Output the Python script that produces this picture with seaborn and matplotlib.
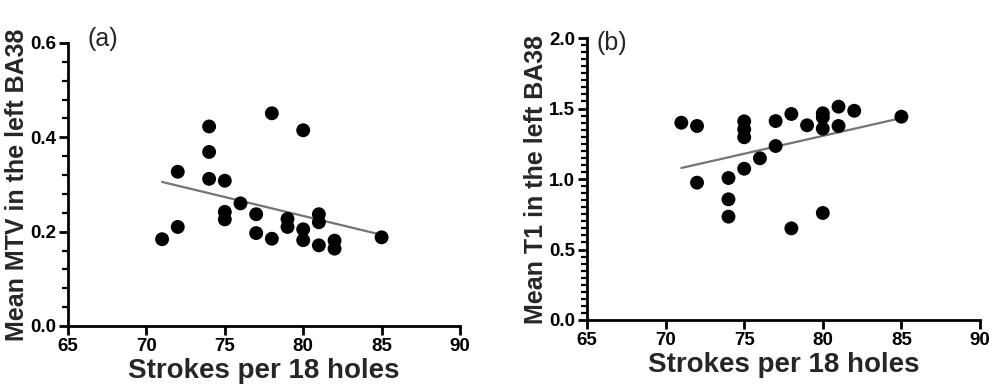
import numpy as np
import pandas as pd
import matplotlib
matplotlib.use("Agg")
import matplotlib.pyplot as plt
import seaborn as sns
from matplotlib.ticker import MultipleLocator, FormatStrFormatter

# Panel (a): Mean MTV
strokes_a = [71, 72, 72, 74, 74, 74, 75, 75, 75, 76, 77, 77, 78, 78, 79, 79,
             80, 80, 80, 81, 81, 81, 82, 82, 85]
mtv = [0.184, 0.210, 0.327, 0.423, 0.369, 0.312, 0.308, 0.242, 0.226, 0.260,
       0.237, 0.197, 0.451, 0.185, 0.227, 0.210, 0.415, 0.205, 0.182, 0.237,
       0.220, 0.171, 0.181, 0.164, 0.188]

# Panel (b): Mean T1
strokes_b = [71, 72, 72, 74, 74, 74, 75, 75, 75, 75, 76, 77, 77, 78, 78, 79,
             80, 80, 80, 80, 81, 81, 82, 85]
t1 = [1.399, 1.376, 0.974, 1.007, 0.856, 0.733, 1.409, 1.352, 1.296, 1.073,
      1.147, 1.411, 1.234, 1.461, 0.650, 1.381, 1.466, 1.437, 1.357, 0.759,
      1.513, 1.376, 1.484, 1.442]

xlabel = "Strokes per 18 holes"
ylabel_a = "Mean MTV in the left BA38"
ylabel_b = "Mean T1 in the left BA38"

sns.set_theme(style="ticks")
plt.rcParams['font.family'] = ['Liberation Sans', 'DejaVu Sans']

fig = plt.figure(figsize=(9.92, 3.87), dpi=100)
ax1 = fig.add_axes([68/992, 61/387, 392/992, 283/387])
ax2 = fig.add_axes([587/992, 67/387, 393/992, 282/387])

dfa = pd.DataFrame({"x": strokes_a, "y": mtv})
dfb = pd.DataFrame({"x": strokes_b, "y": t1})

for ax, df, ylab, ylim, major, minor, lab, lx, ly in [
        (ax1, dfa, ylabel_a, (0, 0.6), 0.2, 0.04, "(a)", 0.05, 1.014),
        (ax2, dfb, ylabel_b, (0, 2.0), 0.5, 0.05, "(b)", 0.025, 0.982)]:
    sns.regplot(data=df, x="x", y="y", ax=ax, ci=None, truncate=True,
                scatter_kws=dict(s=100, color="black", edgecolor="none", alpha=1, zorder=3),
                line_kws=dict(color="#747474", lw=1.6, zorder=2))
    ax.set_xlim(65, 90)
    ax.set_ylim(*ylim)
    ax.xaxis.set_major_locator(MultipleLocator(5))
    ax.yaxis.set_major_locator(MultipleLocator(major))
    ax.yaxis.set_minor_locator(MultipleLocator(minor))
    ax.yaxis.set_major_formatter(FormatStrFormatter("%.1f"))
    ax.set_xlabel(xlabel, fontsize=20, fontweight="bold", labelpad=2)
    ax.set_ylabel(ylab, fontsize=18, fontweight="bold", labelpad=1)
    for s in ["top", "right"]:
        ax.spines[s].set_visible(False)
    for s in ["left", "bottom"]:
        ax.spines[s].set_linewidth(2)
        ax.spines[s].set_color("black")
    ax.tick_params(axis="both", which="major", direction="out", length=6.5, width=2,
                   labelsize=13.5, color="black", labelcolor="black", pad=2)
    ax.tick_params(axis="y", which="minor", direction="out", length=4, width=1.6,
                   color="black", left=True)
    for t in ax.get_xticklabels() + ax.get_yticklabels():
        t.set_fontweight("bold")
    ax.set_facecolor("white")
    ax.text(lx, ly, lab, transform=ax.transAxes, fontsize=18, va="center", ha="left")
    for c in ax.collections:
        c.set_clip_on(False)

fig.savefig("out.png", dpi=100, facecolor="white")
